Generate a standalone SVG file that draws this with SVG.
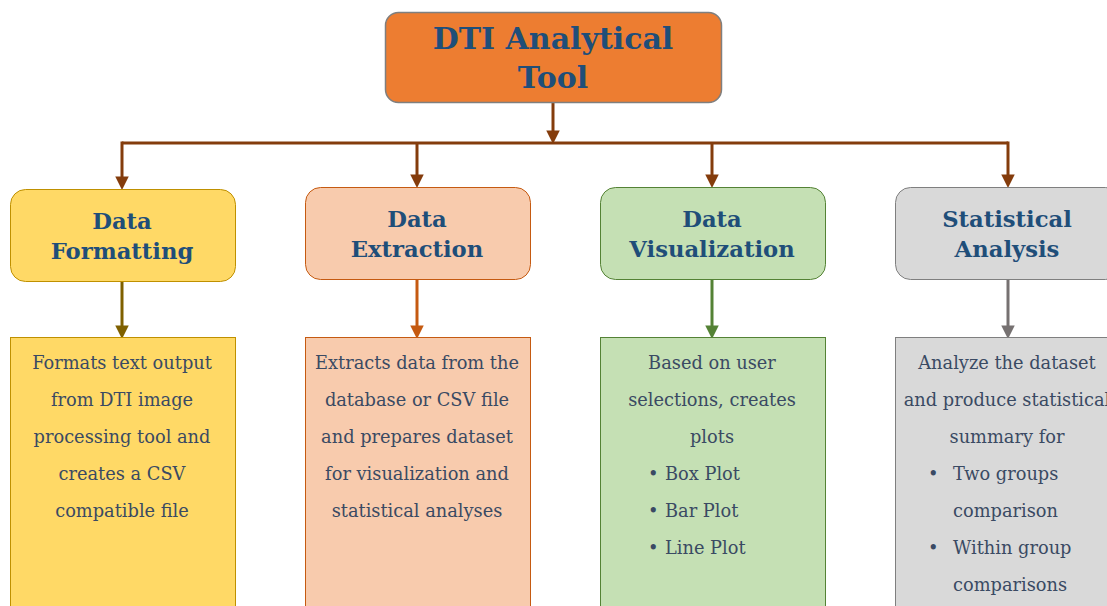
<svg xmlns="http://www.w3.org/2000/svg" width="1107" height="606" viewBox="0 0 1107 606">
  <style>
    .title { font-family: "DejaVu Serif", "Liberation Serif", serif; font-weight: bold; font-size: 30px; fill: #1F4E79; text-anchor: middle; }
    .head { font-family: "DejaVu Serif", "Liberation Serif", serif; font-weight: bold; font-size: 22.7px; fill: #1F4E79; text-anchor: middle; }
    .body { font-family: "DejaVu Serif", "Liberation Serif", serif; font-size: 17.8px; fill: #3A4A63; text-anchor: middle; }
    .bul { font-family: "DejaVu Serif", "Liberation Serif", serif; font-size: 17.8px; fill: #3A4A63; }
    .wire { fill: none; stroke-width: 3; }
  </style>
  <defs>
    <marker id="ahBrown" markerWidth="4.5" markerHeight="4.5" refX="3.2" refY="2.25" orient="auto" markerUnits="strokeWidth">
      <path d="M0,0 L4.5,2.25 L0,4.5 Z" fill="#843C0C"/>
    </marker>
    <marker id="ahOlive" markerWidth="4.5" markerHeight="4.5" refX="3.2" refY="2.25" orient="auto" markerUnits="strokeWidth">
      <path d="M0,0 L4.5,2.25 L0,4.5 Z" fill="#7F6000"/>
    </marker>
    <marker id="ahOrange" markerWidth="4.5" markerHeight="4.5" refX="3.2" refY="2.25" orient="auto" markerUnits="strokeWidth">
      <path d="M0,0 L4.5,2.25 L0,4.5 Z" fill="#C55A11"/>
    </marker>
    <marker id="ahGreen" markerWidth="4.5" markerHeight="4.5" refX="3.2" refY="2.25" orient="auto" markerUnits="strokeWidth">
      <path d="M0,0 L4.5,2.25 L0,4.5 Z" fill="#548235"/>
    </marker>
    <marker id="ahGray" markerWidth="4.5" markerHeight="4.5" refX="3.2" refY="2.25" orient="auto" markerUnits="strokeWidth">
      <path d="M0,0 L4.5,2.25 L0,4.5 Z" fill="#767171"/>
    </marker>
  </defs>

  <rect width="1107" height="606" fill="#FFFFFF"/>

  <!-- connectors -->
  <g id="connectors">
    <path class="wire" stroke="#843C0C" d="M122,143 H1008"/>
    <path class="wire" stroke="#843C0C" d="M553,102 V140" marker-end="url(#ahBrown)"/>
    <path class="wire" stroke="#843C0C" d="M122,141.5 V186" marker-end="url(#ahBrown)"/>
    <path class="wire" stroke="#843C0C" d="M417,143 V184" marker-end="url(#ahBrown)"/>
    <path class="wire" stroke="#843C0C" d="M712,143 V184" marker-end="url(#ahBrown)"/>
    <path class="wire" stroke="#843C0C" d="M1008,141.5 V184" marker-end="url(#ahBrown)"/>
    <path class="wire" stroke="#7F6000" d="M122,282 V335" marker-end="url(#ahOlive)"/>
    <path class="wire" stroke="#C55A11" d="M417,280 V335" marker-end="url(#ahOrange)"/>
    <path class="wire" stroke="#548235" d="M712,280 V335" marker-end="url(#ahGreen)"/>
    <path class="wire" stroke="#767171" d="M1008,280 V335" marker-end="url(#ahGray)"/>
  </g>

  <!-- root -->
  <g id="root">
    <rect x="385.5" y="12.5" width="336" height="90" rx="13" fill="#ED7D31" stroke="#7F7F7F" stroke-width="1.5"/>
    <text class="title" x="553" y="49">DTI Analytical</text>
    <text class="title" x="553" y="88">Tool</text>
  </g>

  <!-- Data Formatting -->
  <g id="formatting">
    <rect x="10.5" y="189.5" width="225" height="92" rx="15" fill="#FFD966" stroke="#BF9000" stroke-width="1"/>
    <text class="head" x="122" y="229">Data</text>
    <text class="head" x="122" y="259">Formatting</text>
  </g>
  <g id="formatting-detail">
    <rect x="10.5" y="337.5" width="225" height="280" fill="#FFD966" stroke="#BF9000" stroke-width="1"/>
    <text class="body" x="122" y="369">Formats text output</text>
    <text class="body" x="122" y="406">from DTI image</text>
    <text class="body" x="122" y="443">processing tool and</text>
    <text class="body" x="122" y="480">creates a CSV</text>
    <text class="body" x="122" y="517">compatible file</text>
  </g>

  <!-- Data Extraction -->
  <g id="extraction">
    <rect x="305.5" y="187.5" width="225" height="92" rx="15" fill="#F8CBAD" stroke="#C55A11" stroke-width="1"/>
    <text class="head" x="417" y="227">Data</text>
    <text class="head" x="417" y="257">Extraction</text>
  </g>
  <g id="extraction-detail">
    <rect x="305.5" y="337.5" width="225" height="280" fill="#F8CBAD" stroke="#C55A11" stroke-width="1"/>
    <text class="body" x="417" y="369">Extracts data from the</text>
    <text class="body" x="417" y="406">database or CSV file</text>
    <text class="body" x="417" y="443">and prepares dataset</text>
    <text class="body" x="417" y="480">for visualization and</text>
    <text class="body" x="417" y="517">statistical analyses</text>
  </g>

  <!-- Data Visualization -->
  <g id="visualization">
    <rect x="600.5" y="187.5" width="225" height="92" rx="15" fill="#C5E0B4" stroke="#548235" stroke-width="1"/>
    <text class="head" x="712" y="227">Data</text>
    <text class="head" x="712" y="257">Visualization</text>
  </g>
  <g id="visualization-detail">
    <rect x="600.5" y="337.5" width="225" height="280" fill="#C5E0B4" stroke="#548235" stroke-width="1"/>
    <text class="body" x="712" y="369">Based on user</text>
    <text class="body" x="712" y="406">selections, creates</text>
    <text class="body" x="712" y="443">plots</text>
    <text class="bul" x="648" y="480">•</text><text class="bul" x="665" y="480">Box Plot</text>
    <text class="bul" x="648" y="517">•</text><text class="bul" x="665" y="517">Bar Plot</text>
    <text class="bul" x="648" y="554">•</text><text class="bul" x="665" y="554">Line Plot</text>
  </g>

  <!-- Statistical Analysis -->
  <g id="statistics">
    <rect x="895.5" y="187.5" width="225" height="92" rx="15" fill="#D9D9D9" stroke="#7F7F7F" stroke-width="1"/>
    <text class="head" x="1007" y="227">Statistical</text>
    <text class="head" x="1007" y="257">Analysis</text>
  </g>
  <g id="statistics-detail">
    <rect x="895.5" y="337.5" width="225" height="280" fill="#D9D9D9" stroke="#7F7F7F" stroke-width="1"/>
    <text class="body" x="1007" y="369">Analyze the dataset</text>
    <text class="body" x="1007" y="406">and produce statistical</text>
    <text class="body" x="1007" y="443">summary for</text>
    <text class="bul" x="928" y="480">•</text><text class="bul" x="953" y="480">Two groups</text>
    <text class="bul" x="953" y="517">comparison</text>
    <text class="bul" x="928" y="554">•</text><text class="bul" x="953" y="554">Within group</text>
    <text class="bul" x="953" y="591">comparisons</text>
  </g>
</svg>
